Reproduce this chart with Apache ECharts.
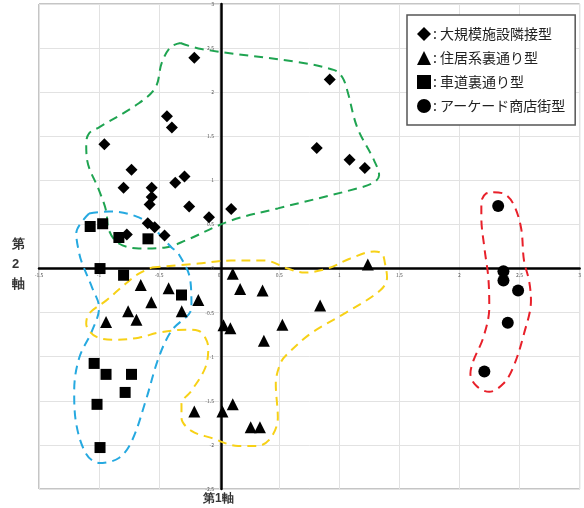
<!DOCTYPE html>
<html>
<head>
<meta charset="utf-8">
<script src="https://cdn.jsdelivr.net/npm/echarts@6/dist/echarts.min.js"></script>
<style>
html, body { margin: 0; padding: 0; background: #fff; }
#main { width: 584px; height: 508px; }
</style>
</head>
<body>
<div id="main"></div>
<script>
// point values [第1軸, 第2軸]
var diamondPts = [
  [-0.207, 2.39], [-0.435, 1.727], [-0.394, 1.60], [-0.956, 1.41], [-0.730, 1.12],
  [-0.289, 1.045], [-0.366, 0.974], [-0.796, 0.917], [-0.562, 0.917], [-0.562, 0.81],
  [-0.579, 0.727], [-0.25, 0.705], [-0.085, 0.583], [0.10, 0.674], [-0.595, 0.515],
  [-0.537, 0.469], [-0.769, 0.386], [-0.455, 0.375],
  [0.92, 2.144], [0.812, 1.367], [1.085, 1.235], [1.212, 1.14]
];
var trianglePts = [
  [-0.653, -0.186], [-0.421, -0.224], [-0.565, -0.383], [-0.174, -0.356], [-0.758, -0.485],
  [-0.312, -0.485], [-0.689, -0.58], [-0.942, -0.606], [0.113, -0.06], [0.174, -0.231],
  [0.361, -0.25], [0.036, -0.644], [0.093, -0.678], [0.526, -0.638], [0.372, -0.818],
  [-0.207, -1.62], [0.027, -1.62], [0.113, -1.54], [0.262, -1.80], [0.339, -1.80],
  [1.237, 0.045], [0.84, -0.42]
];
var squarePts = [
  [-1.074, 0.477], [-0.97, 0.508], [-0.835, 0.352], [-0.593, 0.337], [-0.992, 0.0],
  [-0.796, -0.076], [-0.314, -0.30], [-1.041, -1.076], [-0.942, -1.20], [-0.73, -1.20],
  [-0.783, -1.405], [-1.017, -1.54], [-0.992, -2.03]
];
var circlePts = [
  [2.322, 0.708], [2.366, -0.03], [2.366, -0.136], [2.488, -0.25], [2.402, -0.614], [2.207, -1.167]
];

var groupNames = ['大規模施設隣接型', '住居系裏通り型', '車道裏通り型', 'アーケード商店街型'];

// hand-drawn group outlines (data coordinates)
var greenHull = [
  [-0.322, 2.557], [-0.149, 2.489], [0.653, 2.341], [0.959, 2.25], [1.025, 2.17], [1.066, 2.02],
  [1.149, 1.60], [1.289, 1.227], [1.331, 1.057], [1.289, 0.977], [1.149, 0.909], [0.488, 0.682],
  [0.099, 0.545], [-0.281, 0.318], [-0.446, 0.239], [-0.669, 0.227], [-0.835, 0.284], [-0.917, 0.432],
  [-0.942, 0.659], [-1.0, 0.886], [-1.099, 1.227], [-1.107, 1.42], [-1.083, 1.534], [-1.0, 1.602],
  [-0.669, 1.875], [-0.529, 2.057], [-0.479, 2.33], [-0.405, 2.511], [-0.322, 2.557]
];
var blueHull = [
  [-1.083, 0.625], [-0.917, 0.648], [-0.669, 0.58], [-0.529, 0.432], [-0.397, 0.239], [-0.339, 0.17],
  [-0.24, -0.136], [-0.231, -0.443], [-0.397, -0.705], [-0.504, -1.011], [-0.612, -1.5], [-0.727, -1.955],
  [-0.835, -2.148], [-1.0, -2.205], [-1.107, -2.102], [-1.19, -1.761], [-1.207, -1.386], [-1.165, -1.011],
  [-1.058, -0.705], [-1.0, -0.443], [-1.058, -0.216], [-1.14, 0.057], [-1.165, 0.17], [-1.19, 0.398],
  [-1.083, 0.625]
];
var yellowHull = [
  [-0.562, 0.011], [-0.174, 0.057], [0.099, 0.091], [0.38, 0.091], [0.57, 0.0], [0.711, -0.045],
  [0.901, 0.0], [1.091, 0.114], [1.289, 0.193], [1.355, 0.17], [1.38, 0.057], [1.397, -0.102],
  [1.339, -0.25], [1.041, -0.511], [0.76, -0.739], [0.57, -0.966], [0.512, -1.068], [0.471, -1.307],
  [0.488, -1.693], [0.43, -1.92], [0.322, -2.011], [0.157, -2.011], [-0.066, -1.92], [-0.231, -1.841],
  [-0.314, -1.693], [-0.314, -1.534], [-0.231, -1.386], [-0.116, -1.125], [-0.091, -0.898],
  [-0.116, -0.784], [-0.174, -0.705], [-0.281, -0.693], [-0.504, -0.727], [-0.669, -0.784],
  [-0.86, -0.807], [-1.025, -0.773], [-1.107, -0.625], [-1.083, -0.511], [-0.942, -0.364],
  [-0.777, -0.17], [-0.669, -0.057], [-0.562, 0.011]
];
var redHull = [
  [2.281, 0.864], [2.364, 0.852], [2.446, 0.739], [2.512, 0.466], [2.537, 0.091], [2.579, -0.136],
  [2.595, -0.364], [2.537, -0.739], [2.446, -1.125], [2.364, -1.307], [2.248, -1.398], [2.14, -1.33],
  [2.091, -1.193], [2.116, -1.045], [2.198, -0.784], [2.248, -0.443], [2.24, -0.102], [2.207, 0.239],
  [2.182, 0.58], [2.182, 0.75], [2.223, 0.852], [2.281, 0.864]
];

function hull(data, color) {
  return {
    type: 'line',
    data: data,
    smooth: 0.35,
    symbol: 'none',
    silent: true,
    z: 1,
    lineStyle: { color: color, width: 2, type: [9, 6] }
  };
}

function pts(name, data, symbol, size) {
  return {
    name: name,
    type: 'scatter',
    data: data,
    symbol: symbol,
    symbolSize: size,
    z: 3,
    itemStyle: { color: '#000', opacity: 1 }
  };
}

var dom = document.getElementById('main');
var myChart = echarts.init(dom);
var option = {
  animation: false,
  textStyle: { fontFamily: '"Noto Sans CJK JP", "Noto Sans", sans-serif' },
  grid: {
    left: 39, top: 4, width: 545, height: 485,
    show: true, borderColor: '#8a8a8a', borderWidth: 1
  },
  legend: {
    data: groupNames,
    orient: 'vertical',
    left: 407, top: 15,
    padding: [12, 10, 12, 10],
    itemGap: 10,
    itemWidth: 14, itemHeight: 14,
    backgroundColor: '#fff',
    borderColor: '#555', borderWidth: 1.5,
    formatter: function (n) { return ': ' + n; },
    textStyle: { fontSize: 14, color: '#222', padding: [0, 0, 0, -3] }
  },
  // the axes sit on the zero lines; offsets move them (with labels) into the plot
  xAxis: {
    type: 'value', min: -1.5, max: 3, interval: 0.5,
    offset: -221,
    axisLine: { onZero: false, lineStyle: { color: '#000', width: 2.5 } },
    axisTick: { show: false },
    axisLabel: { fontSize: 5, color: '#555', margin: 5, showMaxLabel: true, showMinLabel: true },
    splitLine: { show: true, lineStyle: { color: '#e2e2e2', width: 1 } }
  },
  yAxis: {
    type: 'value', min: -2.5, max: 3, interval: 0.5,
    offset: -182,
    axisLine: { onZero: false, lineStyle: { color: '#000', width: 2.5 } },
    axisTick: { show: false },
    axisLabel: { fontSize: 5, color: '#555', margin: 7, showMaxLabel: true, showMinLabel: true },
    splitLine: { show: true, lineStyle: { color: '#e2e2e2', width: 1 } }
  },
  graphic: [
    { type: 'text', left: 203, top: 493, style: { text: '第1軸', fontSize: 12, fontWeight: 'bold', fill: '#333' } },
    { type: 'text', left: 12, top: 234, style: { text: '第\n2\n軸', fontSize: 13, fontWeight: 'bold', fill: '#333', lineHeight: 20, align: 'center', width: 14 } }
  ],
  series: [
    hull(greenHull, '#1fa451'),
    hull(blueHull, '#26a9e0'),
    hull(yellowHull, '#f7d117'),
    hull(redHull, '#e8202a'),
    pts(groupNames[0], diamondPts, 'diamond', 12),
    pts(groupNames[1], trianglePts, 'triangle', 12),
    pts(groupNames[2], squarePts, 'rect', 11),
    pts(groupNames[3], circlePts, 'circle', 12)
  ]
};
myChart.setOption(option);
</script>
</body>
</html>
